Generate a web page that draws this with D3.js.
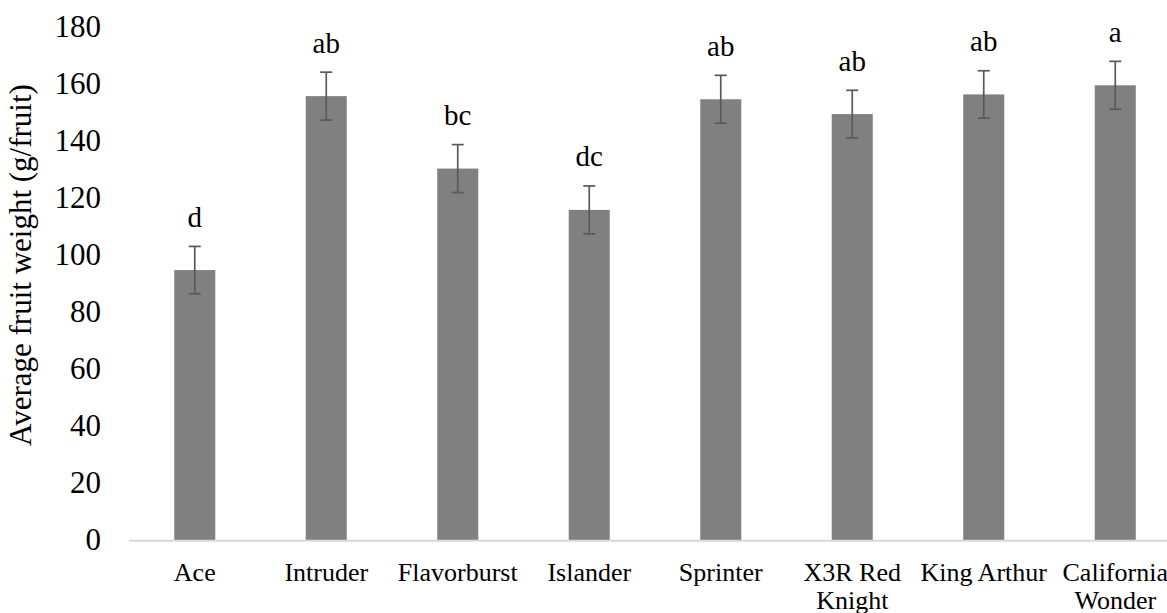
<!DOCTYPE html>
<html>
<head>
<meta charset="utf-8">
<script src="https://cdn.jsdelivr.net/npm/d3@7"></script>
<style>
  body { margin: 0; background: #fff; }
  svg { display: block; }
</style>
</head>
<body>
<div class="container"></div>
<script>
// data
var cultivars = ["Ace", "Intruder", "Flavorburst", "Islander", "Sprinter",
                 "X3R Red Knight", "King Arthur", "California Wonder"];
var labelLines = [["Ace"], ["Intruder"], ["Flavorburst"], ["Islander"], ["Sprinter"],
                  ["X3R Red", "Knight"], ["King Arthur"], ["California", "Wonder"]];
var meanWeight = [94.9, 155.9, 130.5, 116.0, 154.8, 149.6, 156.5, 159.7];
var stdError = [8.3, 8.4, 8.4, 8.4, 8.4, 8.35, 8.3, 8.4];
var groupLetters = ["d", "ab", "bc", "dc", "ab", "ab", "ab", "a"];
var yTicks = [0, 20, 40, 60, 80, 100, 120, 140, 160, 180];

var width = 1167, height = 613;
var margin = { top: 27.4, right: -14, bottom: 72.3, left: 129 };

var svg = d3.select(".container").append("svg")
    .attr("width", width).attr("height", height)
    .attr("xmlns", "http://www.w3.org/2000/svg");

var x = d3.scaleBand().domain(cultivars)
    .range([margin.left, width - margin.right])
    .paddingInner(0.688).paddingOuter(0.344);
var y = d3.scaleLinear().domain([0, 180])
    .range([height - margin.bottom, margin.top]);

var font = "'Liberation Serif', 'Times New Roman', serif";

// y tick labels (no axis line, no ticks)
var yAxis = svg.append("g")
    .attr("transform", "translate(101,0)")
    .call(d3.axisLeft(y).tickValues(yTicks).tickSize(0).tickPadding(0));
yAxis.select(".domain").remove();
yAxis.selectAll("text")
    .attr("font-family", font).attr("font-size", 31)
    .attr("fill", "#000").attr("dy", "0.29em");

// bars
svg.append("g").selectAll("rect").data(cultivars).join("rect")
    .attr("x", function(d) { return x(d); })
    .attr("y", function(d, i) { return y(meanWeight[i]); })
    .attr("width", x.bandwidth())
    .attr("height", function(d, i) { return y(0) - y(meanWeight[i]); })
    .attr("fill", "#808080");

// x axis baseline
svg.append("line")
    .attr("x1", margin.left).attr("x2", width)
    .attr("y1", y(0)).attr("y2", y(0))
    .attr("stroke", "#d9d9d9").attr("stroke-width", 2);

// error bars
var eb = svg.append("g").attr("stroke", "#595959").attr("stroke-width", 1.7);
cultivars.forEach(function(c, i) {
    var cx = x(c) + x.bandwidth() / 2;
    var hi = y(meanWeight[i] + stdError[i]), lo = y(meanWeight[i] - stdError[i]);
    eb.append("line").attr("x1", cx).attr("x2", cx).attr("y1", hi).attr("y2", lo);
    eb.append("line").attr("x1", cx - 6).attr("x2", cx + 6).attr("y1", hi).attr("y2", hi);
    eb.append("line").attr("x1", cx - 6).attr("x2", cx + 6).attr("y1", lo).attr("y2", lo);
});

// significance letters
svg.append("g").selectAll("text").data(cultivars).join("text")
    .attr("x", function(d) { return x(d) + x.bandwidth() / 2; })
    .attr("y", function(d, i) { return y(meanWeight[i] + stdError[i]) - 19.5; })
    .attr("text-anchor", "middle")
    .attr("font-family", font).attr("font-size", 29)
    .text(function(d, i) { return groupLetters[i]; });

// category labels
var cat = svg.append("g").selectAll("text").data(cultivars).join("text")
    .attr("x", function(d) { return x(d) + x.bandwidth() / 2; })
    .attr("y", y(0) + 40)
    .attr("text-anchor", "middle")
    .attr("font-family", font).attr("font-size", 26);
cat.each(function(d, i) {
    var t = d3.select(this);
    labelLines[i].forEach(function(line, j) {
        t.append("tspan")
            .attr("x", x(d) + x.bandwidth() / 2)
            .attr("dy", j === 0 ? 0 : 28.5)
            .text(line);
    });
});

// y axis title
svg.append("text")
    .attr("transform", "rotate(-90)")
    .attr("x", -265).attr("y", 31)
    .attr("text-anchor", "middle")
    .attr("font-family", font).attr("font-size", 31)
    .text("Average fruit weight (g/fruit)");
</script>
</body>
</html>
